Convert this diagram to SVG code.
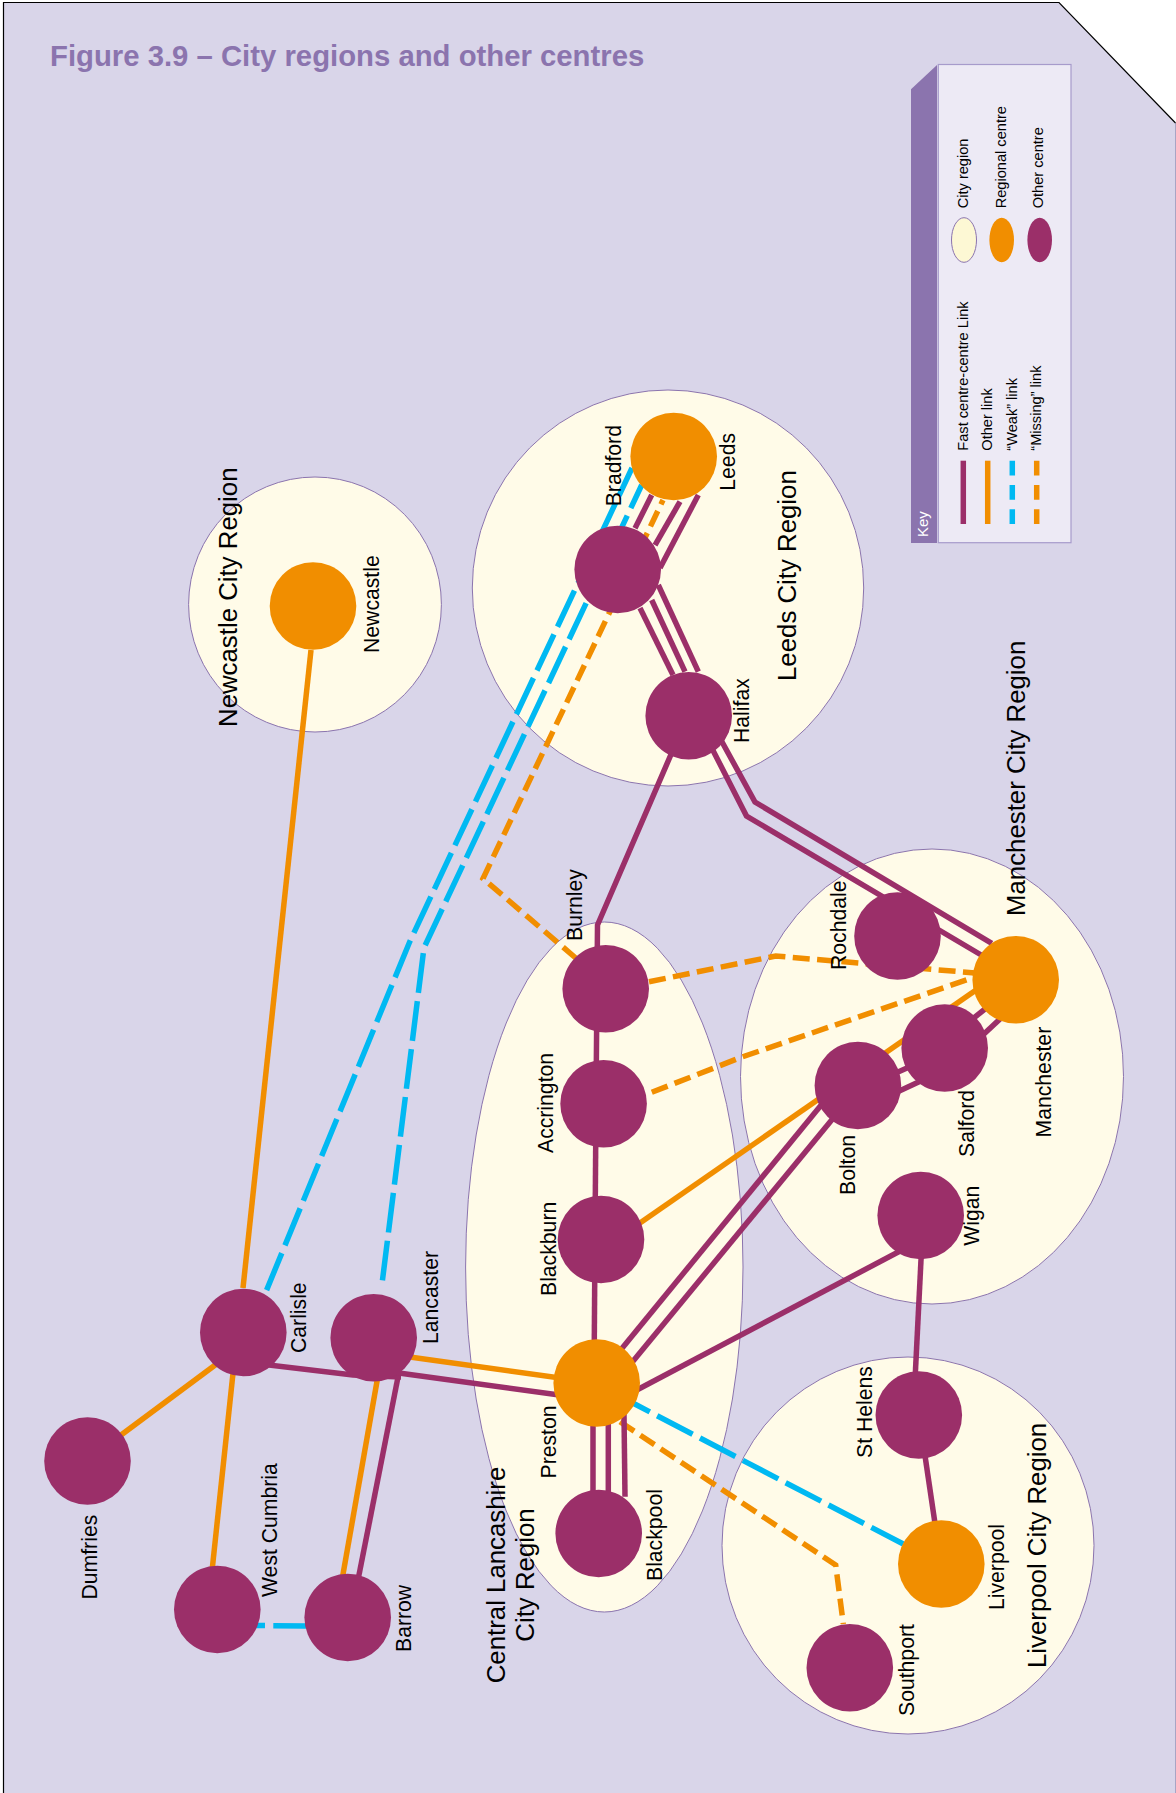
<svg xmlns="http://www.w3.org/2000/svg" width="1176" height="1793" viewBox="0 0 1176 1793">
<style>
text{font-family:"Liberation Sans",Arial,sans-serif;fill:#000}
.lab{font-size:21.2px}
.reg{font-size:25.8px}
.key{font-size:14.6px}
.region{fill:#fffbe8;stroke:#8b74ae;stroke-width:1}
.other{fill:#9b2f69}
.regional{fill:#f18e00}
.c{fill:none;stroke-width:5.5;stroke-linejoin:miter}
.p{stroke:#9b2f69}
.o{stroke:#f18e00}
.b{stroke:#00b9f2;stroke-dasharray:40 8.3}
.od{stroke:#f18e00;stroke-dasharray:17 7.4}
</style>
<polygon id="page" points="3.5,2.5 1059,2.5 1175,123 1175,1793 3.5,1793" fill="#d9d5e9"/>
<line x1="1175.5" y1="123" x2="1175.5" y2="1793" stroke="#a9a5c4" stroke-width="1"/>
<polyline points="3.5,1793 3.5,2.5 1059,2.5 1175.5,123" fill="none" stroke="#000" stroke-width="1.2"/>
<text x="50" y="65.5" font-size="29.3" font-weight="bold" style="fill:#8b74ae">Figure 3.9 – City regions and other centres</text>

<g id="regions">
<ellipse id="region-newcastle" class="region" cx="315" cy="604.5" rx="126.4" ry="127.5"/>
<ellipse id="region-leeds" class="region" cx="668" cy="588" rx="195.7" ry="198"/>
<ellipse id="region-central-lancashire" class="region" cx="604.3" cy="1267" rx="138.7" ry="345"/>
<ellipse id="region-manchester" class="region" cx="932" cy="1076.5" rx="191.5" ry="227.5"/>
<ellipse id="region-liverpool" class="region" cx="908" cy="1545.5" rx="186" ry="188.5"/>
</g>

<g id="connectors">
<line class="c o" x1="311" y1="650" x2="243" y2="1288"/>
<line class="c o" x1="115" y1="1439.5" x2="230" y2="1354"/>
<line class="c o" x1="236" y1="1345" x2="210" y2="1590"/>
<line class="c o" x1="379" y1="1370" x2="342" y2="1580"/>
<line class="c p" x1="399" y1="1372" x2="358" y2="1580"/>
<polyline class="c p" points="243,1362 353,1375 401,1377"/>
<line class="c p" x1="397" y1="1372.7" x2="596" y2="1400"/>
<line class="c o" x1="374" y1="1352" x2="596" y2="1383"/>
<line class="c b" x1="256" y1="1625.5" x2="306" y2="1626" stroke-dashoffset="31"/>
<line class="c b" x1="633.3" y1="1403.3" x2="903.3" y2="1544" stroke-dashoffset="21.4"/>
<polyline class="c od" points="620,1421.7 835.7,1565 843.3,1624"/>
<line class="c p" x1="593" y1="1383" x2="593" y2="1500"/>
<line class="c p" x1="608.3" y1="1383" x2="608.3" y2="1500"/>
<line class="c p" x1="623.7" y1="1390" x2="625" y2="1496.7"/>
<line class="c p" x1="594" y1="1383" x2="595" y2="1239"/>
<line class="c p" x1="595" y1="1240" x2="596" y2="1103"/>
<polyline class="c p" points="596,1103 597.5,925 688,715"/>
<line class="c p" x1="640" y1="608" x2="673" y2="675"/>
<line class="c p" x1="651.7" y1="600" x2="685" y2="671.7"/>
<line class="c p" x1="658.3" y1="585" x2="698.3" y2="671.7"/>
<line class="c p" x1="635" y1="528.3" x2="651.7" y2="495"/>
<line class="c p" x1="655" y1="545" x2="680" y2="501.7"/>
<line class="c p" x1="660" y1="568" x2="698.3" y2="495"/>
<polyline class="c p" points="700,725 746.5,816 982.9,956"/>
<polyline class="c p" points="710,720 755,802 991.8,943.3"/>
<polyline class="c od" points="663,500 483,878.5 575.7,958" stroke-dashoffset="12.2"/>
<polyline class="c b" points="632,468 409.6,942 265.4,1293" stroke-dashoffset="9.5"/>
<polyline class="c b" points="641.7,485 424,947.7 381.5,1288" stroke-dashoffset="14.4"/>
<polyline class="c od" points="649,981.7 775.7,956 975,973"/>
<polyline class="c od" points="651.8,1092.3 742,1057 975,977"/>
<line class="c o" x1="601" y1="1250" x2="1015" y2="963"/>
<line class="c p" x1="610" y1="1363" x2="858" y2="1060"/>
<line class="c p" x1="620" y1="1377" x2="858" y2="1088"/>
<line class="c p" x1="880" y1="1080" x2="925" y2="1060"/>
<line class="c p" x1="880" y1="1100" x2="940" y2="1072"/>
<line class="c p" x1="955" y1="1033" x2="1000" y2="997"/>
<line class="c p" x1="970" y1="1047" x2="1015" y2="1005"/>
<line class="c p" x1="597" y1="1411" x2="921" y2="1240"/>
<line class="c p" x1="921.5" y1="1250" x2="915" y2="1380"/>
<line class="c p" x1="919" y1="1415" x2="941" y2="1564"/>
</g>

<g id="nodes">
<g id="newcastle"><ellipse class="regional" cx="313" cy="606" rx="43.3" ry="43.8"/><text class="lab" transform="translate(378.7,653) rotate(-90)">Newcastle</text></g>
<g id="leeds"><ellipse class="regional" cx="673.7" cy="456.5" rx="43.3" ry="43.8"/><text class="lab" transform="translate(734.5,490.7) rotate(-90)">Leeds</text></g>
<g id="bradford"><ellipse class="other" cx="617.7" cy="569.5" rx="43.3" ry="43.8"/><text class="lab" transform="translate(621,506.3) rotate(-90)">Bradford</text></g>
<g id="halifax"><ellipse class="other" cx="688.7" cy="715.8" rx="43.3" ry="43.8"/><text class="lab" transform="translate(748.5,743) rotate(-90)">Halifax</text></g>
<g id="burnley"><ellipse class="other" cx="605.7" cy="988.8" rx="43.3" ry="43.8"/><text class="lab" transform="translate(581.5,941) rotate(-90)">Burnley</text></g>
<g id="accrington"><ellipse class="other" cx="603.6" cy="1103.8" rx="43.3" ry="43.8"/><text class="lab" transform="translate(552.5,1153) rotate(-90)">Accrington</text></g>
<g id="blackburn"><ellipse class="other" cx="601" cy="1239.5" rx="43.3" ry="43.8"/><text class="lab" transform="translate(555.5,1296) rotate(-90)">Blackburn</text></g>
<g id="preston"><ellipse class="regional" cx="596.7" cy="1383" rx="43.3" ry="43.8"/><text class="lab" transform="translate(556,1478.5) rotate(-90)">Preston</text></g>
<g id="blackpool"><ellipse class="other" cx="598.7" cy="1533.5" rx="43.3" ry="43.8"/><text class="lab" transform="translate(661.5,1581) rotate(-90)">Blackpool</text></g>
<g id="rochdale"><ellipse class="other" cx="897.5" cy="936" rx="43.3" ry="43.8"/><text class="lab" transform="translate(846,970) rotate(-90)">Rochdale</text></g>
<g id="manchester"><ellipse class="regional" cx="1015.7" cy="979.8" rx="43.3" ry="43.8"/><text class="lab" transform="translate(1050.7,1137.5) rotate(-90)">Manchester</text></g>
<g id="salford"><ellipse class="other" cx="944.7" cy="1048" rx="43.3" ry="43.8"/><text class="lab" transform="translate(973.5,1157) rotate(-90)">Salford</text></g>
<g id="bolton"><ellipse class="other" cx="857.9" cy="1085.5" rx="43.3" ry="43.8"/><text class="lab" transform="translate(854.5,1195) rotate(-90)">Bolton</text></g>
<g id="wigan"><ellipse class="other" cx="920.7" cy="1215.5" rx="43.3" ry="43.8"/><text class="lab" transform="translate(979,1245.7) rotate(-90)">Wigan</text></g>
<g id="st-helens"><ellipse class="other" cx="918.8" cy="1415" rx="43.3" ry="43.8"/><text class="lab" transform="translate(871.5,1458) rotate(-90)">St Helens</text></g>
<g id="liverpool"><ellipse class="regional" cx="941.3" cy="1564" rx="43.3" ry="43.8"/><text class="lab" transform="translate(1003.5,1610) rotate(-90)">Liverpool</text></g>
<g id="southport"><ellipse class="other" cx="849.8" cy="1667.8" rx="43.3" ry="43.8"/><text class="lab" transform="translate(913.5,1716) rotate(-90)">Southport</text></g>
<g id="carlisle"><ellipse class="other" cx="243.3" cy="1332.5" rx="43.3" ry="43.8"/><text class="lab" transform="translate(306,1353) rotate(-90)">Carlisle</text></g>
<g id="lancaster"><ellipse class="other" cx="373.7" cy="1337.8" rx="43.3" ry="43.8"/><text class="lab" transform="translate(437.7,1344) rotate(-90)">Lancaster</text></g>
<g id="dumfries"><ellipse class="other" cx="87.5" cy="1461" rx="43.3" ry="43.8"/><text class="lab" transform="translate(96.7,1599.5) rotate(-90)">Dumfries</text></g>
<g id="west-cumbria"><ellipse class="other" cx="217.3" cy="1609.5" rx="43.3" ry="43.8"/><text class="lab" transform="translate(276.7,1597) rotate(-90)">West Cumbria</text></g>
<g id="barrow"><ellipse class="other" cx="347.7" cy="1617.5" rx="43.3" ry="43.8"/><text class="lab" transform="translate(411,1652) rotate(-90)">Barrow</text></g>
</g>

<g id="region-labels">
<text class="reg" transform="translate(237,727) rotate(-90)">Newcastle City Region</text>
<text class="reg" transform="translate(796,681) rotate(-90)">Leeds City Region</text>
<text class="reg" transform="translate(1024.5,916) rotate(-90)">Manchester City Region</text>
<text class="reg" transform="translate(1045.5,1668) rotate(-90)">Liverpool City Region</text>
<text class="reg" text-anchor="middle" transform="translate(504.5,1575) rotate(-90)">Central Lancashire</text>
<text class="reg" text-anchor="middle" transform="translate(534,1575) rotate(-90)">City Region</text>
</g>

<g id="key">
<polygon points="911,89.3 937,65 937,543 911,543" fill="#8b74ae"/>
<rect x="938.3" y="64.5" width="132.7" height="478.2" fill="#edeaf5" stroke="#a79bcb" stroke-width="1.2"/>
<text transform="translate(928.4,537) rotate(-90)" font-size="15" style="fill:#fff">Key</text>
<line x1="963.3" y1="460.7" x2="963.3" y2="524" stroke="#9b2f69" stroke-width="5.5"/>
<line x1="987.7" y1="460.7" x2="987.7" y2="524" stroke="#f18e00" stroke-width="5.5"/>
<line x1="1012.3" y1="460.7" x2="1012.3" y2="524" stroke="#00b9f2" stroke-width="5.5" stroke-dasharray="14.7 9.6"/>
<line x1="1036.7" y1="460.7" x2="1036.7" y2="524" stroke="#f18e00" stroke-width="5.5" stroke-dasharray="14.7 9.6"/>
<text class="key" transform="translate(968.2,450.7) rotate(-90)">Fast centre-centre Link</text>
<text class="key" transform="translate(992,450.7) rotate(-90)">Other link</text>
<text class="key" transform="translate(1017,450.7) rotate(-90)">“Weak” link</text>
<text class="key" transform="translate(1040.5,450.7) rotate(-90)">“Missing” link</text>
<ellipse cx="964" cy="240" rx="12.5" ry="22.3" fill="#fdf8d4" stroke="#8b74ae" stroke-width="1"/>
<ellipse cx="1001.7" cy="240" rx="12.3" ry="22.3" fill="#f18e00"/>
<ellipse cx="1039.7" cy="240" rx="12.3" ry="22.3" fill="#9b2f69"/>
<text class="key" transform="translate(968.2,208.3) rotate(-90)">City region</text>
<text class="key" transform="translate(1006.2,208.3) rotate(-90)">Regional centre</text>
<text class="key" transform="translate(1043,208.3) rotate(-90)">Other centre</text>
</g>
</svg>
